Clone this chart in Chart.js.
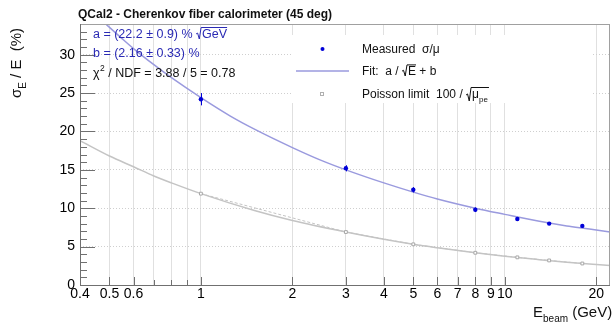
<!DOCTYPE html>
<html>
<head>
<meta charset="utf-8">
<script src="https://cdn.jsdelivr.net/npm/chart.js@4.4.0/dist/chart.umd.min.js"></script>
<style>
  html, body { margin: 0; padding: 0; background: #fff; }
</style>
</head>
<body>
<canvas id="chart" width="615" height="323"></canvas>
<script>
// beam energies (GeV) and measured resolution (%)
const energies = [1, 3, 5, 8, 11, 14, 18];
const measured = [24.2, 15.2, 12.4, 9.8, 8.6, 8.0, 7.7];
const measuredErr = [0.8, 0.4, 0.35, 0.3, 0.25, 0.2, 0.25];
// Poisson limit points
const poisson = [11.9, 6.9, 5.3, 4.2, 3.6, 3.2, 2.8];

// fit curve
const fitE = [0.48, 0.55, 0.6, 0.7, 0.8, 1, 1.25, 1.5, 2, 2.5, 3, 4, 5, 6, 8, 10, 13, 16, 19, 22.2];
const fitVals = [34.2, 32.1, 30.8, 28.7, 27.0, 24.4, 22.0, 20.3, 17.9, 16.2, 15.0, 13.3, 12.1, 11.2, 10.0, 9.2, 8.3, 7.7, 7.3, 6.9];
// Poisson limit curve
const poisE = [0.4, 0.5, 0.6, 0.7, 0.8, 1, 1.5, 2, 3, 4, 5, 6, 8, 10, 13, 16, 19, 22.2];
const poisVals = [18.8, 16.8, 15.4, 14.2, 13.3, 11.9, 9.7, 8.4, 6.9, 5.95, 5.3, 4.85, 4.2, 3.75, 3.3, 2.97, 2.73, 2.53];

const xTicks = [0.4, 0.5, 0.6, 0.7, 0.8, 0.9, 1, 2, 3, 4, 5, 6, 7, 8, 9, 10, 20];
const xLabels = [0.4, 0.5, 0.6, 1, 2, 3, 4, 5, 6, 7, 8, 9, 10, 20];
const yTicks = [0, 5, 10, 15, 20, 25, 30];
const yMinor = [1, 2, 3, 4, 6, 7, 8, 9, 11, 12, 13, 14, 16, 17, 18, 19, 21, 22, 23, 24, 26, 27, 28, 29, 31, 32, 33];

const fam = "'Liberation Sans', Arial, Helvetica, sans-serif";
const blue = '#0000d8';
const fitColor = '#9a9ade';
const grey = '#c4c4c4';

function pts(xs, ys) {
  return xs.map((x, i) => ({ x: x, y: ys[i] }));
}

// text with a subscript, returns end x
function subText(ctx, x, y, main, sub, size) {
  ctx.font = size + 'px ' + fam;
  ctx.fillText(main, x, y);
  x += ctx.measureText(main).width;
  ctx.font = Math.round(size * 0.68) + 'px ' + fam;
  ctx.fillText(sub, x, y + size * 0.3);
  return x + ctx.measureText(sub).width;
}

// radical sign with overline of given width
function radical(ctx, x, y, h, w) {
  ctx.beginPath();
  ctx.moveTo(x, y - h * 0.45);
  ctx.lineTo(x + 1.5, y - h * 0.55);
  ctx.lineTo(x + 3.2, y + 1);
  ctx.lineTo(x + 5, y - h - 1.5);
  ctx.lineTo(x + 6 + w, y - h - 1.5);
  ctx.stroke();
  return x + 6;
}

const rootStyle = {
  id: 'rootStyle',
  beforeDatasetsDraw(chart) {
    const ctx = chart.ctx;
    // legend box hides grid
    ctx.save();
    ctx.fillStyle = '#fff';
    ctx.fillRect(291, 35, 302, 68);
    ctx.restore();
  },
  afterDatasetsDraw(chart) {
    const ctx = chart.ctx;
    const xs = chart.scales.x, ys = chart.scales.y;
    ctx.save();
    ctx.strokeStyle = blue;
    ctx.lineWidth = 1;
    energies.forEach((e, i) => {
      const px = Math.round(xs.getPixelForValue(e)) + 0.5;
      ctx.beginPath();
      ctx.moveTo(px, ys.getPixelForValue(measured[i] - measuredErr[i]));
      ctx.lineTo(px, ys.getPixelForValue(measured[i] + measuredErr[i]));
      ctx.stroke();
    });
    ctx.restore();
  },
  afterDraw(chart) {
    const ctx = chart.ctx;
    const a = chart.chartArea;
    const xs = chart.scales.x, ys = chart.scales.y;
    ctx.save();

    // frame
    ctx.strokeStyle = '#a0a0a0';
    ctx.lineWidth = 1;
    ctx.strokeRect(a.left + 0.5, a.top + 0.5, a.right - a.left - 1, a.bottom - a.top);
    ctx.strokeStyle = '#707070';
    ctx.beginPath();
    ctx.moveTo(a.left + 0.5, a.top);
    ctx.lineTo(a.left + 0.5, a.bottom + 0.5);
    ctx.lineTo(a.right, a.bottom + 0.5);
    ctx.stroke();

    // ticks inside the frame
    ctx.beginPath();
    xTicks.forEach(v => {
      const px = Math.round(xs.getPixelForValue(v)) + 0.5;
      ctx.moveTo(px, a.bottom);
      ctx.lineTo(px, a.bottom - (xLabels.includes(v) ? 8 : 5));
    });
    yTicks.forEach(v => {
      const py = Math.round(ys.getPixelForValue(v)) + 0.5;
      ctx.moveTo(a.left, py);
      ctx.lineTo(a.left + 15, py);
    });
    yMinor.forEach(v => {
      const py = Math.round(ys.getPixelForValue(v)) + 0.5;
      ctx.moveTo(a.left, py);
      ctx.lineTo(a.left + 7, py);
    });
    ctx.stroke();

    // title
    ctx.fillStyle = '#111';
    ctx.textBaseline = 'alphabetic';
    ctx.textAlign = 'left';
    ctx.font = 'bold 12px ' + fam;
    ctx.fillText('QCal2 - Cherenkov fiber calorimeter (45 deg)', 78, 18);

    // axis titles
    let x = subText(ctx, 533, 317, 'E', 'beam', 15);
    ctx.font = '15px ' + fam;
    ctx.fillText(' (GeV)', x, 317);

    ctx.save();
    ctx.translate(21, 98);
    ctx.rotate(-Math.PI / 2);
    x = subText(ctx, 0, 0, '\u03c3', 'E', 15);
    ctx.font = '15px ' + fam;
    ctx.fillText(' / E  (%)', x, 0);
    ctx.restore();

    // fit parameters
    ctx.fillStyle = '#2a2ab4';
    ctx.strokeStyle = '#2a2ab4';
    ctx.lineWidth = 1;
    ctx.font = '12.5px ' + fam;
    let s = 'a = (22.2 \u00b1 0.9) % ';
    ctx.fillText(s, 93, 38);
    x = 93 + ctx.measureText(s).width;
    let w = ctx.measureText('GeV').width;
    x = radical(ctx, x, 38, 9, w);
    ctx.fillText('GeV', x, 38);
    ctx.fillText('b = (2.16 \u00b1 0.33) %', 93, 57);
    ctx.fillStyle = '#111';
    ctx.fillText('\u03c7', 93, 77);
    x = 93 + ctx.measureText('\u03c7').width;
    ctx.font = '8.5px ' + fam;
    ctx.fillText('2', x + 0.5, 71);
    x += ctx.measureText('2').width + 0.5;
    ctx.font = '12.5px ' + fam;
    ctx.fillText(' / NDF = 3.88 / 5 = 0.78', x, 77);

    // legend
    ctx.fillStyle = blue;
    ctx.beginPath();
    ctx.arc(322.5, 49, 2, 0, Math.PI * 2);
    ctx.fill();
    ctx.strokeStyle = fitColor;
    ctx.lineWidth = 1.5;
    ctx.beginPath();
    ctx.moveTo(296, 71);
    ctx.lineTo(349, 71);
    ctx.stroke();
    ctx.strokeStyle = '#b0b0b0';
    ctx.lineWidth = 1;
    ctx.strokeRect(320.5, 92.5, 3, 3);

    ctx.fillStyle = '#111';
    ctx.strokeStyle = '#111';
    ctx.font = '12px ' + fam;
    ctx.fillText('Measured  \u03c3/\u03bc', 362, 53);
    s = 'Fit:  a / ';
    ctx.fillText(s, 362, 75);
    x = 362 + ctx.measureText(s).width;
    w = ctx.measureText('E').width;
    x = radical(ctx, x, 75, 8.6, w);
    ctx.fillText('E', x, 75);
    x += w;
    ctx.fillText(' + b', x, 75);
    s = 'Poisson limit  100 / ';
    ctx.fillText(s, 362, 98);
    x = 362 + ctx.measureText(s).width;
    ctx.font = '8px ' + fam;
    w = ctx.measureText('\u03bc').width + ctx.measureText('pe').width + 2;
    ctx.font = '12px ' + fam;
    w = ctx.measureText('\u03bc').width + 10;
    x = radical(ctx, x, 100, 11, w);
    subText(ctx, x, 98, '\u03bc', 'pe', 12);

    ctx.restore();
  }
};

new Chart(document.getElementById('chart'), {
  type: 'scatter',
  data: {
    datasets: [
      {
        label: 'Measured',
        data: pts(energies, measured),
        showLine: false,
        pointRadius: 2.2,
        pointBackgroundColor: blue,
        pointBorderColor: blue,
        pointBorderWidth: 0
      },
      {
        label: 'Fit',
        data: pts(fitE, fitVals),
        showLine: true,
        borderColor: fitColor,
        borderWidth: 1.5,
        pointRadius: 0,
        cubicInterpolationMode: 'monotone'
      },
      {
        label: 'Poisson points',
        data: pts(energies, poisson),
        showLine: true,
        borderColor: grey,
        borderWidth: 1,
        borderDash: [3, 2],
        pointStyle: 'rect',
        pointRadius: 2,
        pointBackgroundColor: '#fff',
        pointBorderColor: '#a8a8a8',
        pointBorderWidth: 1
      },
      {
        label: 'Poisson limit',
        data: pts(poisE, poisVals),
        showLine: true,
        borderColor: grey,
        borderWidth: 1.5,
        pointRadius: 0,
        cubicInterpolationMode: 'monotone'
      }
    ]
  },
  options: {
    responsive: false,
    animation: false,
    devicePixelRatio: 1,
    layout: { padding: { top: 24, right: 2, left: 0, bottom: 0 } },
    plugins: {
      legend: { display: false },
      tooltip: { enabled: false },
      title: { display: false }
    },
    scales: {
      x: {
        type: 'logarithmic',
        min: 0.4,
        max: 22.2,
        afterBuildTicks: s => { s.ticks = xTicks.map(v => ({ value: v })); },
        afterFit: s => { s.height = 38; },
        grid: { color: '#e0e0e0', lineWidth: 1, drawTicks: false },
        border: { display: false },
        ticks: {
          autoSkip: false,
          maxRotation: 0,
          minRotation: 0,
          padding: 1,
          color: '#000',
          font: { family: fam, size: 14 },
          callback: v => xLabels.includes(v) ? String(v) : ''
        }
      },
      y: {
        type: 'linear',
        min: 0,
        max: 34,
        afterBuildTicks: s => { s.ticks = yTicks.map(v => ({ value: v })); },
        afterFit: s => { s.width = 80; },
        grid: { color: '#cfcfcf', lineWidth: 1, drawTicks: false },
        border: { display: false, dash: [1, 2] },
        ticks: {
          padding: 5,
          color: '#000',
          font: { family: fam, size: 14 }
        }
      }
    }
  },
  plugins: [rootStyle]
});
</script>
</body>
</html>
